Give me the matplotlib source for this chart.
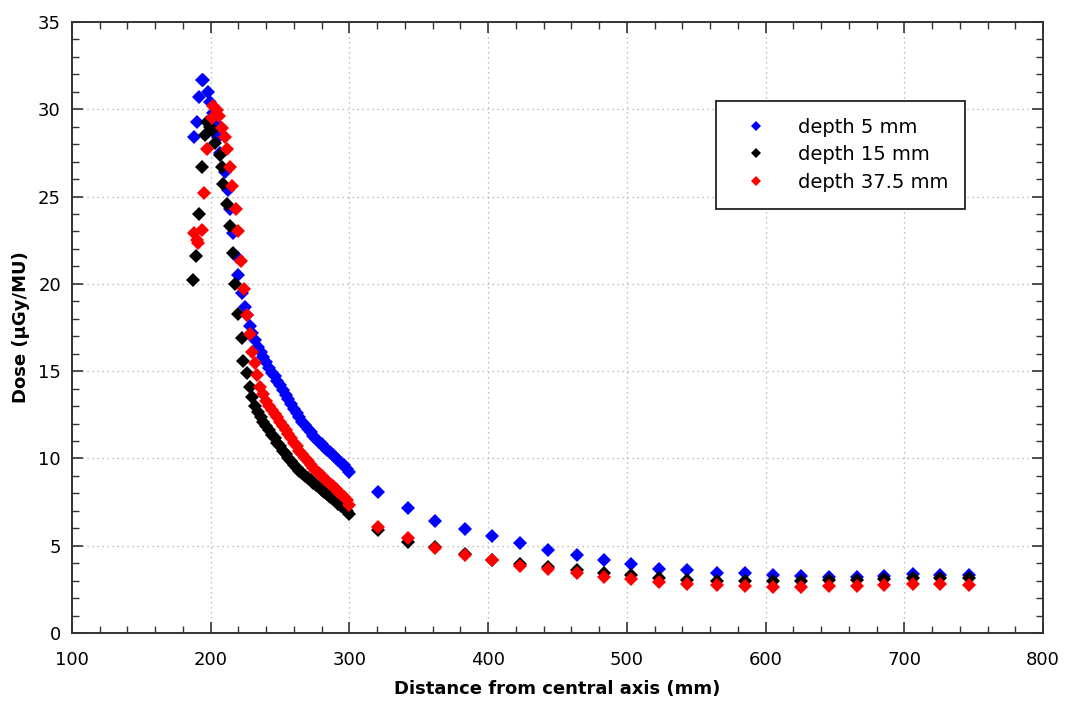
import matplotlib
matplotlib.use("Agg")
import matplotlib.pyplot as plt
from matplotlib.ticker import MultipleLocator

# ---------------- data ----------------
blue_x = [187.9, 189.9, 191.8, 193.5, 194.7, 198.3, 199.5, 201.9, 203.8, 205.5, 206.7,
          210.3, 212.7, 213.9, 216.3, 218.7, 219.9, 222.3, 224.7,
          226, 228, 230, 232, 234, 236, 238, 240, 242, 244, 246, 248, 250, 252, 254,
          256, 258, 260, 262, 264, 266, 268, 270, 272, 274, 276, 278, 280, 282, 284,
          286, 288, 290, 292, 294, 296, 298, 300,
          320.4, 342, 362, 383, 403, 423, 443.5, 463.7, 483.8, 503, 523, 543.6, 565,
          585, 605.5, 625.7, 646, 666, 685.5, 706, 726, 747]
blue_y = [28.4, 29.3, 30.7, 31.65, 31.7, 31.0, 30.4, 29.8, 29.2, 28.4, 27.5,
          26.4, 25.4, 24.3, 22.9, 21.55, 20.5, 19.5, 18.7,
          18.2, 17.6, 17.2, 16.8, 16.4, 16.1, 15.8, 15.5, 15.2, 14.9, 14.7, 14.45, 14.2,
          13.9, 13.65, 13.4, 13.1, 12.85, 12.6, 12.35, 12.1, 11.9, 11.7, 11.5, 11.3,
          11.1, 10.95, 10.8, 10.65, 10.5, 10.35, 10.2, 10.05, 9.9, 9.75, 9.6, 9.4, 9.2,
          8.05, 7.17, 6.43, 5.96, 5.54, 5.16, 4.76, 4.44, 4.21, 3.98, 3.66, 3.59, 3.43,
          3.43, 3.30, 3.24, 3.19, 3.19, 3.26, 3.36, 3.34, 3.33]

black_x = [187.5, 189.4, 191.8, 193.5, 195.9, 197.1, 199.5, 200.7, 203.1, 206.7, 207.9,
           209.1, 211.5, 213.9, 215.8, 217.5, 219.9, 222.3, 223.5, 225.9, 228.3, 229.5,
           232, 234, 236, 238, 240, 242, 244, 246, 248, 250, 252, 254, 256, 258, 260,
           262, 264, 266, 268, 270, 272, 274, 276, 278, 280, 282, 284, 286, 288, 290,
           292, 294, 296, 298, 300,
           320.4, 342, 362, 383, 403, 423, 443.5, 463.7, 483.8, 503, 523, 543.6, 565,
           585, 605.5, 625.7, 646, 666, 685.5, 706, 726, 747]
black_y = [20.2, 21.6, 24.0, 26.7, 28.5, 29.3, 29.0, 28.8, 28.05, 27.4, 26.7,
           25.7, 24.6, 23.3, 21.75, 20.0, 18.3, 16.9, 15.6, 14.9, 14.1, 13.5,
           13.0, 12.65, 12.35, 12.1, 11.85, 11.6, 11.35, 11.15, 10.9, 10.7, 10.45, 10.25,
           10.05, 9.85, 9.65, 9.45, 9.3, 9.15, 9.0, 8.9, 8.75, 8.6, 8.45, 8.35, 8.2, 8.1,
           7.95, 7.8, 7.65, 7.55, 7.4, 7.3, 7.15, 7.0, 6.8,
           5.9, 5.24, 4.95, 4.5, 4.2, 3.97, 3.8, 3.6, 3.45, 3.3, 3.17, 3.05, 3.0,
           2.98, 3.0, 2.98, 3.02, 3.05, 3.1, 3.15, 3.15, 3.15]

red_x = [187.9, 189.9, 191.0, 193.5, 195.2, 197.1, 200.7, 201.9, 204.3, 206.2, 207.9,
         210.3, 212.0, 213.9, 215.1, 218.2, 219.9, 221.8, 224.0, 225.9, 228.3, 229.5,
         232.0, 233.1, 235.5,
         238, 240, 242, 244, 246, 248, 250, 252, 254, 256, 258, 260, 262, 264, 266,
         268, 270, 272, 274, 276, 278, 280, 282, 284, 286, 288, 290, 292, 294, 296,
         298, 300,
         320.4, 342, 362, 383, 403, 423, 443.5, 463.7, 483.8, 503, 523, 543.6, 565,
         585, 605.5, 625.7, 646, 666, 685.5, 706, 726, 747]
red_y = [22.9, 22.5, 22.35, 23.1, 25.2, 27.7, 29.5, 30.2, 29.95, 29.6, 28.9,
         28.4, 27.7, 26.7, 25.6, 24.3, 23.0, 21.3, 19.7, 18.2, 17.1, 16.1,
         15.45, 14.8, 14.1,
         13.7, 13.3, 13.0, 12.75, 12.55, 12.35, 12.1, 11.85, 11.6, 11.4, 11.15, 10.9,
         10.7, 10.45, 10.25, 10.05, 9.85, 9.65, 9.45, 9.3, 9.15, 9.0, 8.85, 8.7, 8.55,
         8.4, 8.25, 8.1, 7.95, 7.8, 7.6, 7.35,
         6.05, 5.42, 4.88, 4.46, 4.17, 3.85, 3.68, 3.43, 3.22, 3.07, 2.92, 2.8, 2.73,
         2.7, 2.62, 2.65, 2.7, 2.72, 2.73, 2.79, 2.78, 2.75]

series_labels = ["depth 5 mm", "depth 15 mm", "depth 37.5 mm"]
series_colors = ["#0000ff", "#000000", "#ff0000"]

# ---------------- figure ----------------
plt.rcParams['font.family'] = ['DejaVu Sans']
fig = plt.figure(figsize=(10.65, 7.02), dpi=100)
ax = fig.add_axes([72/1065, 1 - 633/702, (1043 - 72)/1065, (633 - 22)/702])

for xs, ys, lab, col in zip([blue_x, black_x, red_x], [blue_y, black_y, red_y],
                            series_labels, series_colors):
    ax.plot(xs, ys, linestyle='none', marker='D', markersize=7.2,
            color=col, markeredgewidth=0, label=lab)

ax.set_xlim(100, 800)
ax.set_ylim(0, 35)
ax.xaxis.set_major_locator(MultipleLocator(100))
ax.xaxis.set_minor_locator(MultipleLocator(20))
ax.yaxis.set_major_locator(MultipleLocator(5))
ax.yaxis.set_minor_locator(MultipleLocator(1))
ax.tick_params(which='both', direction='in', top=True, right=True,
               labelsize=13, color='#333333')
ax.tick_params(axis='x', which='both', pad=13)
ax.tick_params(axis='y', which='both', pad=8)
ax.tick_params(which='major', length=8, width=1.2)
ax.tick_params(which='minor', length=5, width=1.0)
for s in ax.spines.values():
    s.set_linewidth(1.4)
    s.set_color('#333333')

ax.grid(True, which='major', linestyle=(0, (1, 3)), color='#aaaaaa', linewidth=0.9)
ax.set_axisbelow(True)

ax.set_xlabel("Distance from central axis (mm)", fontsize=13, fontweight='bold', labelpad=8)
ax.set_ylabel("Dose (µGy/MU)", fontsize=13, fontweight='bold', labelpad=6)

leg = ax.legend(loc='upper left', bbox_to_anchor=((716 - 72)/971, 1 - (101 - 22)/611),
                fontsize=14, frameon=True, fancybox=False, markerscale=0.7,
                handlelength=2.4, handletextpad=0.95, borderpad=0.85, labelspacing=0.45,
                borderaxespad=0)
leg.get_frame().set_edgecolor('#222222')
leg.get_frame().set_linewidth(1.3)
leg.get_frame().set_alpha(1)

fig.savefig("out.png", dpi=100)
